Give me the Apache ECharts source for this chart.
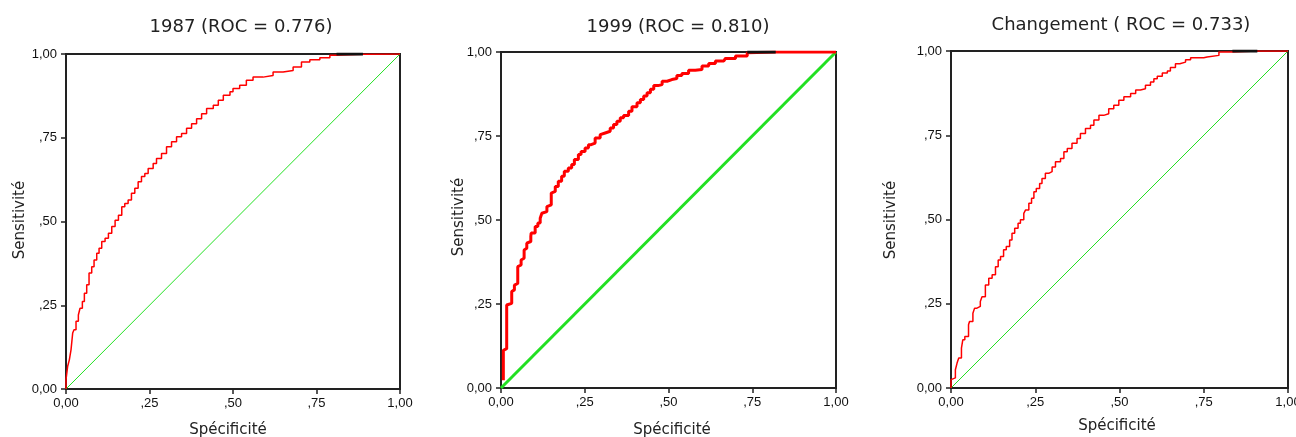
<!DOCTYPE html>
<html>
<head>
<meta charset="utf-8">
<script src="https://cdn.jsdelivr.net/npm/echarts@6/dist/echarts.min.js"></script>
<style>
  html, body { margin: 0; padding: 0; background: #fff; }
  #chart { width: 1296px; height: 437px; }
</style>
</head>
<body>
<div id="chart"></div>
<script>
/* ---- data ---- */
const titles = ['1987 (ROC = 0.776)', '1999 (ROC = 0.810)', 'Changement ( ROC = 0.733)'];
const tickLabels = ['0,00', ',25', ',50', ',75', '1,00'];

const spec1987 = [0, .005, .010, .015, .020, .024, .030, .037, .042, .049, .055, .062, .069, .077, .084, .092, .099, .107, .117, .127, .137, .147, .157, .167, .176, .186, .196, .206, .216, .226, .236, .246, .261, .271, .286, .301, .316, .331, .346, .361, .376, .391, .406, .421, .441, .456, .471, .491, .500, .520, .540, .560, .590, .620, .650, .680, .705, .730, .760, .790, .810, .889, 1];
const sens1987 = [0, .028, .068, .087, .117, .167, .177, .202, .221, .241, .261, .286, .311, .346, .365, .385, .405, .420, .440, .450, .465, .485, .504, .519, .544, .554, .564, .584, .599, .619, .634, .643, .658, .673, .688, .703, .723, .738, .753, .763, .778, .792, .807, .822, .837, .847, .862, .877, .887, .897, .907, .922, .931, .936, .946, .951, .961, .976, .983, .989, .996, .999, 1];

const spec1999 = [.007, .010, .017, .017, .022, .032, .032, .040, .042, .050, .052, .060, .062, .069, .070, .077, .082, .089, .090, .102, .110, .117, .122, .127, .137, .142, .150, .154, .162, .171, .181, .189, .201, .211, .219, .231, .239, .251, .261, .269, .281, .296, .301, .311, .326, .336, .346, .356, .366, .381, .391, .406, .416, .426, .436, .446, .456, .469, .481, .496, .510, .525, .540, .560, .580, .600, .620, .640, .665, .670, .700, .735, .740, .820, 1];
const sens1999 = [.023, .112, .117, .197, .247, .252, .287, .292, .306, .311, .361, .366, .381, .386, .411, .416, .431, .436, .451, .461, .481, .491, .505, .520, .525, .540, .545, .580, .585, .600, .615, .630, .645, .655, .665, .680, .695, .704, .714, .724, .729, .744, .754, .759, .764, .774, .784, .794, .804, .811, .824, .837, .849, .859, .869, .879, .889, .900, .903, .913, .918, .921, .930, .936, .946, .948, .958, .966, .973, .978, .981, .988, .998, 1, 1];

const specChg = [0, .003, .013, .018, .023, .031, .035, .041, .052, .055, .065, .070, .077, .087, .092, .102, .112, .122, .132, .140, .147, .156, .164, .174, .181, .189, .199, .206, .216, .221, .231, .239, .246, .253, .263, .270, .280, .290, .300, .310, .325, .335, .345, .359, .374, .384, .399, .414, .424, .439, .453, .468, .483, .498, .513, .533, .548, .562, .577, .592, .602, .612, .627, .642, .651, .666, .679, .696, .711, .750, .760, .795, .835, .909, 1];
const sensChg = [0, .025, .030, .054, .074, .089, .118, .143, .153, .188, .197, .222, .237, .242, .257, .271, .306, .326, .336, .360, .380, .390, .410, .420, .439, .459, .474, .489, .499, .518, .528, .548, .563, .582, .592, .607, .622, .637, .642, .656, .671, .681, .701, .711, .726, .740, .755, .770, .780, .795, .809, .814, .829, .839, .854, .864, .874, .884, .888, .898, .908, .918, .925, .935, .941, .951, .962, .967, .974, .980, .982, .987, .997, 1, 1];

// dark stretch of the top edge where the curve sits on 1,00
const topDark1987 = [.81, .889];
const topDark1999 = [.735, .82];
const topDarkChg = [.835, .909];

const diagonal = [0, 1];

/* ---- layout per panel ---- */
const panels = [
  { spec: spec1987, sens: sens1987, dark: topDark1987, grid: { left: 66, top: 54, width: 334, height: 335 }, curveW: 1.5, diagW: 1,
    title: [236, 13], yName: [20, 220], xName: [228, 430] },
  { spec: spec1999, sens: sens1999, dark: topDark1999, grid: { left: 501, top: 52, width: 335, height: 336 }, curveW: 3, diagW: 3,
    title: [673, 13], yName: [459, 217], xName: [672, 430] },
  { spec: specChg, sens: sensChg, dark: topDarkChg, grid: { left: 951, top: 51, width: 337, height: 337 }, curveW: 1.5, diagW: 1,
    title: [1116, 11], yName: [891, 220], xName: [1117, 426] }
];

const fmt = v => tickLabels[Math.round(v * 4)];
const axisBase = {
  type: 'value', min: 0, max: 1, interval: 0.25,
  splitLine: { show: false },
  axisLine: { show: true, onZero: false, lineStyle: { color: '#222', width: 2 } },
  axisTick: { show: true, length: 5, lineStyle: { color: '#222', width: 1.5 } },
  axisLabel: { formatter: fmt, color: '#111', fontSize: 13, fontFamily: 'Liberation Sans, Arial, sans-serif' }
};

const option = {
  animation: false,
  backgroundColor: '#fff',
  title: panels.map((p, i) => ({
    text: titles[i], left: p.title[0], top: p.title[1], textAlign: 'center',
    textStyle: { fontSize: 18, fontWeight: 'normal', color: '#222', fontFamily: 'DejaVu Sans, sans-serif' }
  })),
  grid: panels.map(p => Object.assign({ show: true, borderColor: '#222', borderWidth: 2, backgroundColor: '#fff',
    containLabel: false, outerBoundsMode: 'none' }, p.grid)),
  xAxis: panels.map((p, i) => Object.assign({}, axisBase, { gridIndex: i,
    axisLabel: Object.assign({}, axisBase.axisLabel, { margin: 8 }) })),
  yAxis: panels.map((p, i) => Object.assign({}, axisBase, { gridIndex: i,
    axisLabel: Object.assign({}, axisBase.axisLabel, { margin: 9 }) })),
  series: panels.flatMap((p, i) => [
    {
      type: 'line', xAxisIndex: i, yAxisIndex: i, symbol: 'none', silent: true,
      data: diagonal.map(v => [v, v]),
      lineStyle: { color: '#22e022', width: p.diagW }
    },
    {
      type: 'line', xAxisIndex: i, yAxisIndex: i, symbol: 'none', silent: true, step: 'start',
      data: p.spec.map((x, k) => [x, p.sens[k]]),
      lineStyle: { color: '#ff0000', width: p.curveW }
    },
    {
      type: 'line', xAxisIndex: i, yAxisIndex: i, symbol: 'none', silent: true,
      data: p.dark.map(x => [x, 1]),
      lineStyle: { color: '#111', width: 3 }
    }
  ]),
  graphic: panels.flatMap(p => [
    { type: 'text', x: p.yName[0], y: p.yName[1], rotation: Math.PI / 2,
      style: { text: 'Sensitivité', fill: '#222', font: '15px "DejaVu Sans", sans-serif', align: 'center', verticalAlign: 'middle' } },
    { type: 'text', x: p.xName[0], y: p.xName[1],
      style: { text: 'Spécificité', fill: '#222', font: '15px "DejaVu Sans", sans-serif', align: 'center', verticalAlign: 'middle' } }
  ])
};

const chart = echarts.init(document.getElementById('chart'), null, { renderer: 'canvas' });
chart.setOption(option);
</script>
</body>
</html>
